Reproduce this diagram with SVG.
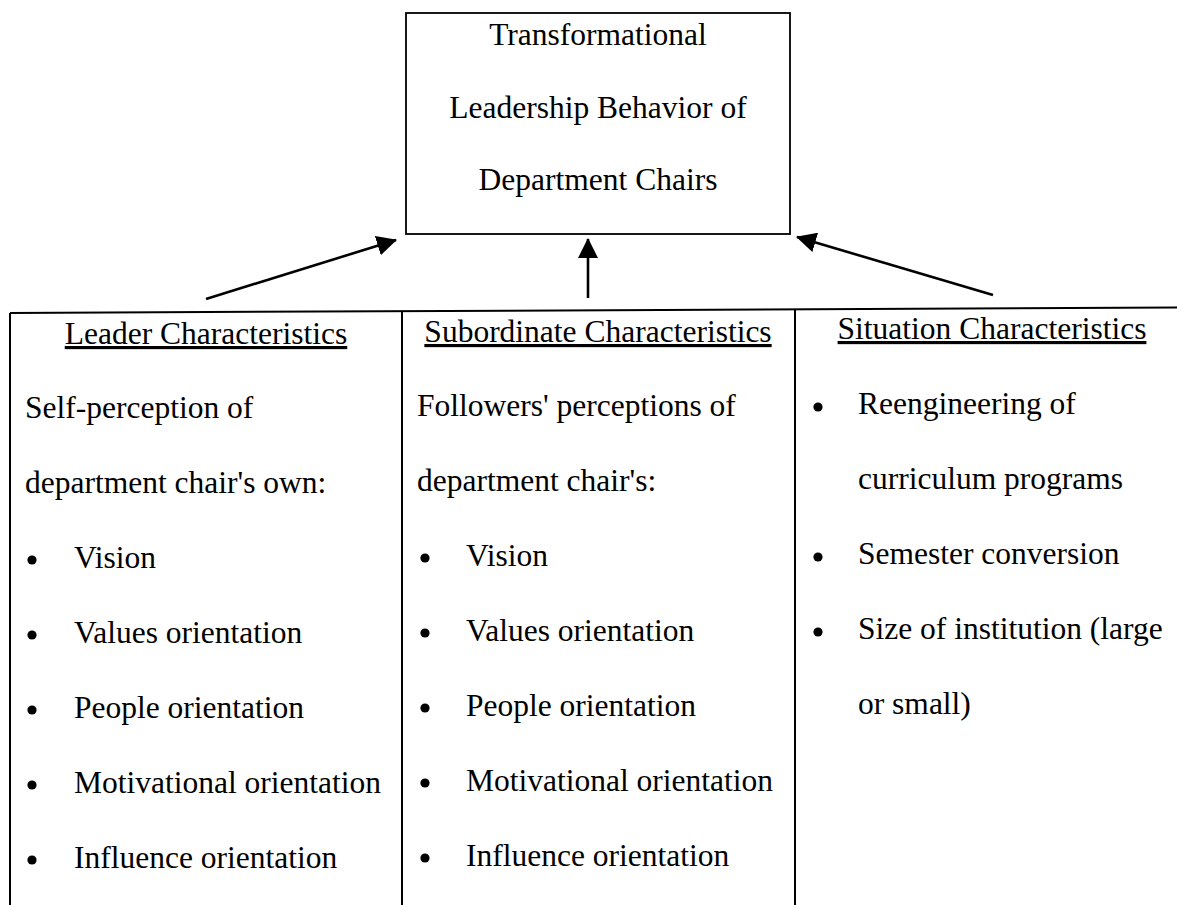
<svg xmlns="http://www.w3.org/2000/svg" width="1177" height="905" viewBox="0 0 1177 905">
<style>
  text { font-family: "Liberation Serif", "Times New Roman", serif; font-size: 31.5px; fill: #000; }
  .c { text-anchor: middle; }
  .u { text-decoration: underline; }
  .box { fill: #fff; stroke: #000; stroke-width: 1.8; }
  .rule { stroke: #000; stroke-width: 2; fill: none; }
  .arrow { stroke: #000; stroke-width: 2.6; fill: none; marker-end: url(#ah); }
  .dot { fill: #000; }
</style>
<defs>
  <marker id="ah" viewBox="0 0 20 20" refX="19" refY="10" markerWidth="20" markerHeight="20" markerUnits="userSpaceOnUse" orient="auto">
    <path d="M0,0 L20,10 L0,20 Z" fill="#000"/>
  </marker>
</defs>
<rect width="1177" height="905" fill="#fff"/>

<g id="node-transformational">
  <rect class="box" x="406" y="13" width="384" height="221"/>
  <text class="c" x="598" y="45">Transformational</text>
  <text class="c" x="598" y="118">Leadership Behavior of</text>
  <text class="c" x="598" y="190">Department Chairs</text>
</g>

<g id="table-frame">
  <path class="rule" d="M10,313 L1177,307.5"/>
  <path class="rule" d="M10,313 L10,905"/>
  <path class="rule" d="M402,311 L402,905"/>
  <path class="rule" d="M795,309 L795,905"/>
</g>

<g id="node-leader">
  <text class="c u" x="206" y="344">Leader Characteristics</text>
  <text x="25" y="418">Self-perception of</text>
  <text x="25" y="493">department chair's own:</text>
  <circle class="dot" cx="32" cy="560" r="4.6"/>
  <text x="74" y="568">Vision</text>
  <circle class="dot" cx="32" cy="635" r="4.6"/>
  <text x="74" y="643">Values orientation</text>
  <circle class="dot" cx="32" cy="710" r="4.6"/>
  <text x="74" y="718">People orientation</text>
  <circle class="dot" cx="32" cy="785" r="4.6"/>
  <text x="74" y="793">Motivational orientation</text>
  <circle class="dot" cx="32" cy="860" r="4.6"/>
  <text x="74" y="868">Influence orientation</text>
</g>

<g id="node-subordinate">
  <text class="c u" x="598" y="342">Subordinate Characteristics</text>
  <text x="417" y="416">Followers' perceptions of</text>
  <text x="417" y="491">department chair's:</text>
  <circle class="dot" cx="425" cy="558" r="4.6"/>
  <text x="466" y="566">Vision</text>
  <circle class="dot" cx="425" cy="633" r="4.6"/>
  <text x="466" y="641">Values orientation</text>
  <circle class="dot" cx="425" cy="708" r="4.6"/>
  <text x="466" y="716">People orientation</text>
  <circle class="dot" cx="425" cy="783" r="4.6"/>
  <text x="466" y="791">Motivational orientation</text>
  <circle class="dot" cx="425" cy="858" r="4.6"/>
  <text x="466" y="866">Influence orientation</text>
</g>

<g id="node-situation">
  <text class="c u" x="992" y="339">Situation Characteristics</text>
  <circle class="dot" cx="818" cy="407" r="4.6"/>
  <text x="858" y="414">Reengineering of</text>
  <text x="858" y="489">curriculum programs</text>
  <circle class="dot" cx="818" cy="557" r="4.6"/>
  <text x="858" y="564">Semester conversion</text>
  <circle class="dot" cx="818" cy="632" r="4.6"/>
  <text x="858" y="639">Size of institution (large</text>
  <text x="858" y="714">or small)</text>
</g>

<g id="connectors">
  <line class="arrow" x1="206" y1="299" x2="396" y2="240"/>
  <line class="arrow" x1="588" y1="298" x2="588" y2="239"/>
  <line class="arrow" x1="993" y1="295" x2="797" y2="237"/>
</g>
</svg>
